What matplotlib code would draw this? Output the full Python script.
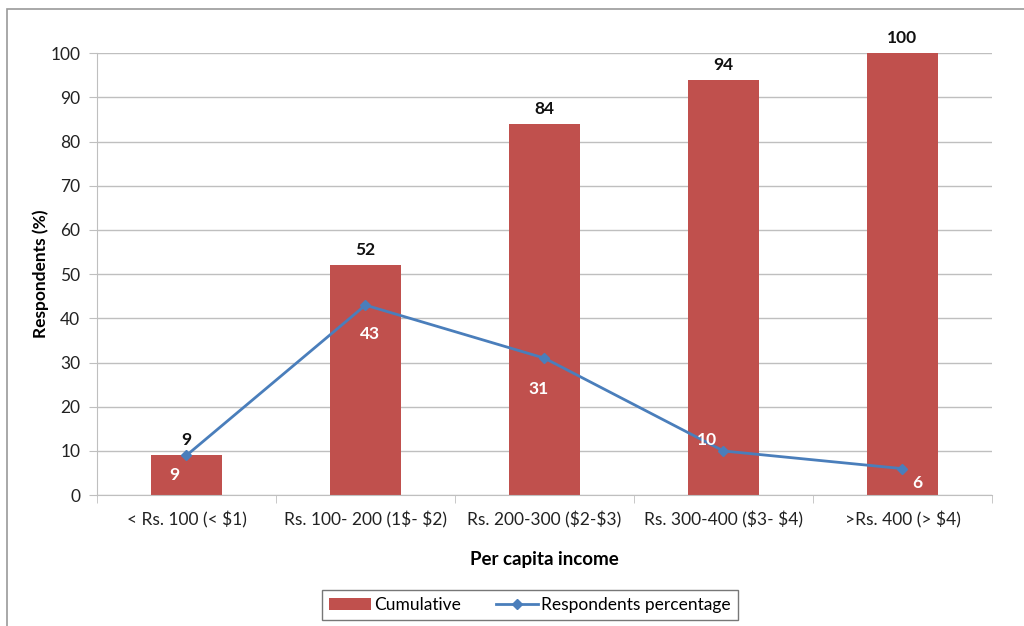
import numpy as np
import matplotlib.pyplot as plt
from matplotlib.patches import Rectangle

categories = ["< Rs. 100 (< \\$1)", "Rs. 100- 200 (1\\$- \\$2)", "Rs. 200-300 (\\$2-\\$3)",
              "Rs. 300-400 (\\$3- \\$4)", ">Rs. 400 (> \\$4)"]
cumulative = [9, 52, 84, 94, 100]
respondents = [9, 43, 31, 10, 6]

# label offsets (points) for the line values, as placed in the original
line_label_offsets = [(-9, -14), (3, -21), (-4, -22), (-12, 8), (11, -10)]

plt.rcParams['font.family'] = ['Lato', 'DejaVu Sans']

fig = plt.figure(figsize=(10.24, 6.26), dpi=100)
ax = fig.add_axes([0.0947, 0.209, 0.874, 0.706])

# outer chart frame (left and top visible)
fig.patches.append(Rectangle((7 / 1024, -0.1), 1.2, 1 - 9 / 626 + 0.1,
                             transform=fig.transFigure, fill=False,
                             edgecolor='#9a9a9a', linewidth=1.2))

x = np.arange(len(categories))
bars = ax.bar(x, cumulative, width=0.4, color='#C0504D', label='Cumulative', zorder=2)
line, = ax.plot(x, respondents, color='#4A7EBB', linewidth=2, marker='D', markersize=5,
                label='Respondents percentage', zorder=3)

for xi, v in zip(x, cumulative):
    ax.annotate(str(v), (xi, v), xytext=(0, 5), textcoords='offset points',
                ha='center', va='bottom', fontsize=12.5, fontweight='bold', color='#111111')
for xi, v, off in zip(x, respondents, line_label_offsets):
    ax.annotate(str(v), (xi, v), xytext=off, textcoords='offset points',
                ha='center', va='center', fontsize=12.5, fontweight='bold', color='white', zorder=4)

ax.set_xlim(-0.5, len(categories) - 0.5)
ax.set_ylim(0, 100)
ax.set_yticks(range(0, 101, 10))
ax.yaxis.grid(True, color='#BFBFBF', linewidth=1)
ax.set_axisbelow(True)

ax.set_xticks(x)
ax.set_xticklabels(categories, fontsize=12.5, color='#222222')
ax.set_xticks(np.arange(-0.5, len(categories)), minor=True)
ax.tick_params(axis='x', which='major', length=0, pad=12)
ax.tick_params(axis='x', which='minor', length=6, color='#BFBFBF', direction='out')
ax.tick_params(axis='y', labelsize=12.5, labelcolor='#222222', length=6, color='#BFBFBF', pad=6)

for side in ['top', 'right']:
    ax.spines[side].set_visible(False)
ax.spines['left'].set_color('#BFBFBF')
ax.spines['bottom'].set_color('#BFBFBF')

ax.set_ylabel('Respondents (%)', fontsize=12.5, fontweight='bold', labelpad=1)
ax.set_xlabel('Per capita income', fontsize=13.5, fontweight='bold', labelpad=16)

leg = ax.legend([bars, line], ['Cumulative', 'Respondents percentage'],
                loc='center', bbox_to_anchor=(530 / 1024, 1 - 605 / 626),
                bbox_transform=fig.transFigure, ncol=2, fontsize=12.5, frameon=True,
                fancybox=False, edgecolor='#555555', handlelength=2.4,
                columnspacing=2.0, handletextpad=0.2, borderpad=0.4)
leg.get_frame().set_linewidth(1)

fig.savefig('out.png', dpi=100)
